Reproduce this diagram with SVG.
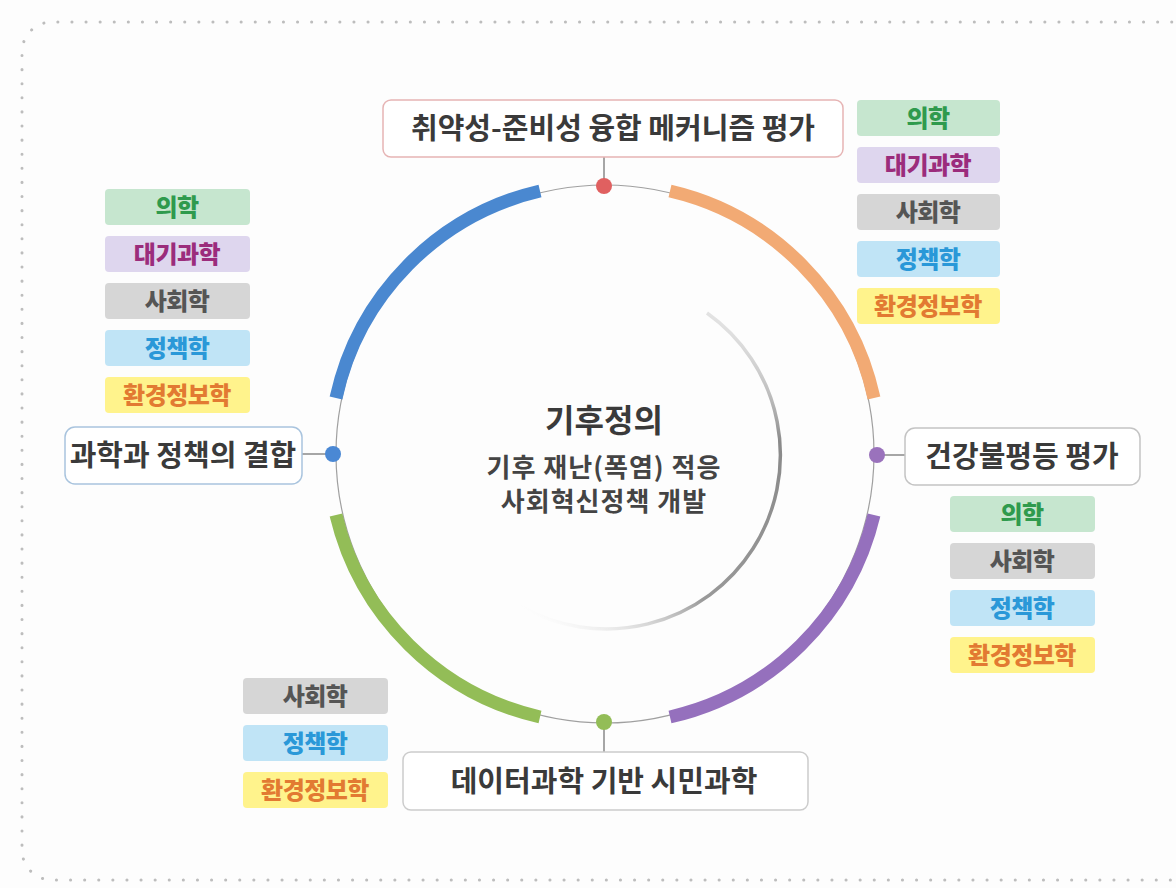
<svg xmlns="http://www.w3.org/2000/svg" width="1176" height="888" viewBox="0 0 1176 888">
<defs>
<style>
.kr{font-family:"Noto Sans CJK KR","Noto Sans",sans-serif;}
.box{fill:#fff;stroke-width:1.5;}
.lbl{font-size:29px;fill:#3a3a3a;font-weight:600;text-anchor:middle;}
.tag{font-size:24px;font-weight:900;text-anchor:middle;letter-spacing:-0.5px;}
.link{stroke:#888;stroke-width:1.5;fill:none;}
.arc{fill:none;stroke-width:13;}
</style>
<linearGradient id="ig" gradientUnits="userSpaceOnUse" x1="707" y1="313" x2="520" y2="606">
<stop offset="0" stop-color="#bbb" stop-opacity="0.4"/>
<stop offset="0.2" stop-color="#8a8a8a"/>
<stop offset="0.7" stop-color="#999"/>
<stop offset="1" stop-color="#ccc" stop-opacity="0"/>
</linearGradient>
</defs>
<rect width="1176" height="888" fill="#fdfdfd"/>
<path d="M1200 22 H52 A30 30 0 0 0 22 52 V850 A30 30 0 0 0 52 880 H1200" fill="none" stroke="#bdbdbd" stroke-width="3" stroke-dasharray="0.1 14" stroke-linecap="round"/>

<g id="ring">
<circle cx="605" cy="454" r="269" fill="none" stroke="#a0a0a0" stroke-width="1.2"/>
<path class="arc" stroke="#4a88d0" d="M540 191 A272 272 0 0 0 336 398"/>
<path class="arc" stroke="#f2aa74" d="M670 191 A272 272 0 0 1 874 398"/>
<path class="arc" stroke="#9570bd" d="M874 515 A272 272 0 0 1 670 717"/>
<path class="arc" stroke="#93bd57" d="M540 717 A272 272 0 0 1 336 515"/>
<path d="M707 313 A174 174 0 0 1 520 606" fill="none" stroke="url(#ig)" stroke-width="3.5"/>
</g>

<g id="center">
<text class="kr" x="604" y="432" font-size="32" font-weight="700" fill="#3a3a3a" text-anchor="middle">기후정의</text>
<text class="kr" x="604" y="477" font-size="26" font-weight="700" fill="#444" text-anchor="middle" letter-spacing="1">기후 재난(폭염) 적응</text>
<text class="kr" x="604" y="511" font-size="26" font-weight="700" fill="#444" text-anchor="middle" letter-spacing="1">사회혁신정책 개발</text>
</g>

<g id="connectors">
<line class="link" x1="604" y1="157" x2="604" y2="186"/>
<line class="link" x1="302" y1="454" x2="333" y2="454"/>
<line class="link" x1="877" y1="455" x2="905" y2="455"/>
<line class="link" x1="604" y1="722" x2="604" y2="752"/>
<circle cx="604" cy="186" r="8" fill="#e06060"/>
<circle cx="333" cy="454" r="8" fill="#4a88d4"/>
<circle cx="877" cy="455" r="8" fill="#9a72bc"/>
<circle cx="604" cy="722" r="8" fill="#93bd57"/>
</g>

<g id="node-top">
<rect class="box" x="383" y="100" width="460" height="57" rx="8" stroke="#e6b4b4"/>
<text class="kr lbl" x="613" y="139">취약성-준비성 융합 메커니즘 평가</text>
</g>
<g id="node-left">
<rect class="box" x="65" y="427" width="237" height="57" rx="10" stroke="#a9c4de"/>
<text class="kr lbl" x="183" y="466">과학과 정책의 결합</text>
</g>
<g id="node-right">
<rect class="box" x="905" y="428" width="235" height="57" rx="10" stroke="#c4c4c4"/>
<text class="kr lbl" x="1022" y="467">건강불평등 평가</text>
</g>
<g id="node-bottom">
<rect class="box" x="403" y="752" width="405" height="58" rx="8" stroke="#cccccc"/>
<text class="kr lbl" x="604" y="792">데이터과학 기반 시민과학</text>
</g>

<g id="tags-top-right">
<rect x="857" y="100" width="143" height="36" rx="4" fill="#c6e6cf"/><text class="kr tag" x="928" y="127" fill="#2f9a4d">의학</text>
<rect x="857" y="147" width="143" height="36" rx="4" fill="#ded6ee"/><text class="kr tag" x="928" y="174" fill="#9b2c7c">대기과학</text>
<rect x="857" y="194" width="143" height="36" rx="4" fill="#d6d6d6"/><text class="kr tag" x="928" y="221" fill="#555">사회학</text>
<rect x="857" y="241" width="143" height="36" rx="4" fill="#c0e4f6"/><text class="kr tag" x="928" y="268" fill="#2a98d8">정책학</text>
<rect x="857" y="288" width="143" height="36" rx="4" fill="#fff38c"/><text class="kr tag" x="928" y="315" fill="#e27a32">환경정보학</text>
</g>
<g id="tags-left">
<rect x="105" y="189" width="145" height="36" rx="4" fill="#c6e6cf"/><text class="kr tag" x="177" y="216" fill="#2f9a4d">의학</text>
<rect x="105" y="236" width="145" height="36" rx="4" fill="#ded6ee"/><text class="kr tag" x="177" y="263" fill="#9b2c7c">대기과학</text>
<rect x="105" y="283" width="145" height="36" rx="4" fill="#d6d6d6"/><text class="kr tag" x="177" y="310" fill="#555">사회학</text>
<rect x="105" y="330" width="145" height="36" rx="4" fill="#c0e4f6"/><text class="kr tag" x="177" y="357" fill="#2a98d8">정책학</text>
<rect x="105" y="377" width="145" height="36" rx="4" fill="#fff38c"/><text class="kr tag" x="177" y="404" fill="#e27a32">환경정보학</text>
</g>
<g id="tags-right">
<rect x="950" y="496" width="145" height="36" rx="4" fill="#c6e6cf"/><text class="kr tag" x="1022" y="523" fill="#2f9a4d">의학</text>
<rect x="950" y="543" width="145" height="36" rx="4" fill="#d6d6d6"/><text class="kr tag" x="1022" y="570" fill="#555">사회학</text>
<rect x="950" y="590" width="145" height="36" rx="4" fill="#c0e4f6"/><text class="kr tag" x="1022" y="617" fill="#2a98d8">정책학</text>
<rect x="950" y="637" width="145" height="36" rx="4" fill="#fff38c"/><text class="kr tag" x="1022" y="664" fill="#e27a32">환경정보학</text>
</g>
<g id="tags-bottom-left">
<rect x="243" y="678" width="145" height="36" rx="4" fill="#d6d6d6"/><text class="kr tag" x="315" y="705" fill="#555">사회학</text>
<rect x="243" y="725" width="145" height="36" rx="4" fill="#c0e4f6"/><text class="kr tag" x="315" y="752" fill="#2a98d8">정책학</text>
<rect x="243" y="772" width="145" height="36" rx="4" fill="#fff38c"/><text class="kr tag" x="315" y="799" fill="#e27a32">환경정보학</text>
</g>
</svg>
